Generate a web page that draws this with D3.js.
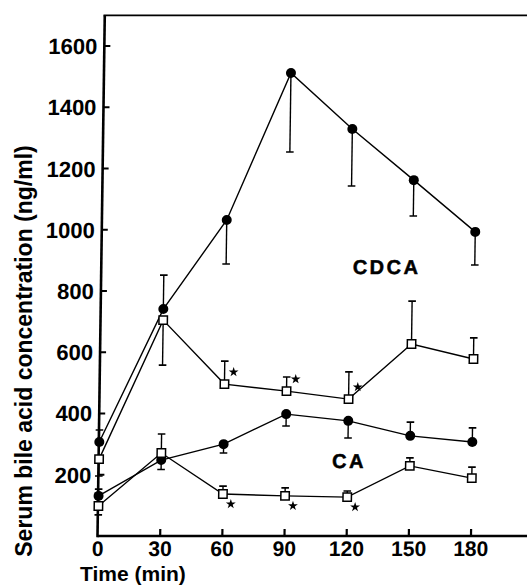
<!DOCTYPE html>
<html><head><meta charset="utf-8">
<script src="https://cdn.jsdelivr.net/npm/d3@7"></script>
<style>html,body{margin:0;padding:0;background:#fff;}svg{display:block;}</style>
</head><body>
<script>
// ---- data ----
const times = [0, 30, 60, 90, 120, 150, 180];
const yTicks = [200, 400, 600, 800, 1000, 1200, 1400, 1600];
const xTicks = [0, 30, 60, 90, 120, 150, 180];

const cdcaFilled    = [307, 741, 1032, 1512, 1329, 1162, 993];
const cdcaFilledErr = [346, 852, 888, 1254, 1143, 1045, 885];
const cdcaOpen      = [251, 705, 496, 473, 447, 627, 578];
const cdcaOpenErr   = [196, 558, 571, 519, 536, 767, 647];
const cdcaOpenStars = [false, false, true, true, true, false, false];

const caFilled      = [131, 248, 300, 398, 376, 327, 307];
const caFilledErr   = [153, 217, 271, 359, 320, 372, 353];
const caOpen        = [98, 271, 137, 131, 127, 229, 189];
const caOpenErr     = [69, 333, 163, 157, 147, 255, 225];
const caOpenStars   = [false, false, true, true, true, false, false];

const groupLabels = ["CDCA", "CA"];
const xLabel = "Time (min)";
const yLabel = "Serum bile acid concentration (ng/ml)";

// ---- layout ----
const W = 527, H = 585;
const svg = d3.select("body").append("svg").attr("width", W).attr("height", H);
const font = "'Liberation Sans', Arial, Helvetica, sans-serif";

const x = d3.scaleLinear().domain([0, 180]).range([98, 471]);
const y = d3.scaleLinear().domain([0, 1700]).range([536, 15.4]);

// slight skew like the scanned original
const g = svg.append("g")
  .attr("transform", `translate(0,${y(0)}) skewX(-0.8) translate(0,${-y(0)})`);

// axes
const x0 = x(0) - 0.5;
g.append("line").attr("x1", x0).attr("x2", W + 20).attr("y1", y(0)).attr("y2", y(0))
  .attr("stroke", "#000").attr("stroke-width", 2.6);
g.append("line").attr("x1", x0).attr("x2", x0).attr("y1", y(0) + 1.3).attr("y2", y(1700))
  .attr("stroke", "#000").attr("stroke-width", 2.6);
g.append("line").attr("x1", x0 - 1.3).attr("x2", W + 20).attr("y1", y(1700)).attr("y2", y(1700))
  .attr("stroke", "#000").attr("stroke-width", 1.8);

// y ticks
g.selectAll(".yt").data(yTicks).join("line")
  .attr("x1", x0).attr("x2", x0 + 6).attr("y1", d => y(d)).attr("y2", d => y(d))
  .attr("stroke", "#000").attr("stroke-width", 2.2);
g.selectAll(".ytl").data(yTicks).join("text")
  .attr("x", x0 - 7).attr("y", d => y(d) + 8)
  .attr("text-anchor", "end").attr("font-family", font).attr("font-weight", "bold")
  .attr("font-size", 22).text(d => d);

// x ticks
g.selectAll(".xt").data(xTicks.filter(d => d > 0)).join("line")
  .attr("x1", d => x(d)).attr("x2", d => x(d)).attr("y1", y(0)).attr("y2", y(0) - 7)
  .attr("stroke", "#000").attr("stroke-width", 2.2);
g.selectAll(".xtl").data(xTicks).join("text")
  .attr("x", d => x(d)).attr("y", 556)
  .attr("text-anchor", "middle").attr("font-family", font).attr("font-weight", "bold")
  .attr("font-size", 21).text(d => d);

// series
const series = [
  {v: cdcaFilled, e: cdcaFilledErr, type: "circle"},
  {v: cdcaOpen, e: cdcaOpenErr, type: "square", stars: cdcaOpenStars, so: [9, -12]},
  {v: caFilled, e: caFilledErr, type: "circle"},
  {v: caOpen, e: caOpenErr, type: "square", stars: caOpenStars, so: [8, 10]},
];

const line = d3.line().x((d, i) => x(times[i])).y(d => y(d));

// error bars
series.forEach(s => {
  const eb = g.append("g");
  s.v.forEach((v, i) => {
    const cx = x(times[i]);
    eb.append("line").attr("x1", cx).attr("x2", cx).attr("y1", y(v)).attr("y2", y(s.e[i]))
      .attr("stroke", "#000").attr("stroke-width", 1.4);
    eb.append("line").attr("x1", cx - 3.8).attr("x2", cx + 3.8).attr("y1", y(s.e[i])).attr("y2", y(s.e[i]))
      .attr("stroke", "#000").attr("stroke-width", 1.6);
  });
});

// lines
series.forEach(s => {
  g.append("path").attr("d", line(s.v)).attr("fill", "none")
    .attr("stroke", "#000").attr("stroke-width", 1.4);
});

// markers
series.forEach(s => {
  if (s.type === "circle") {
    g.selectAll(null).data(s.v).join("circle")
      .attr("cx", (d, i) => x(times[i])).attr("cy", d => y(d)).attr("r", 5)
      .attr("fill", "#000");
  } else {
    g.selectAll(null).data(s.v).join("rect")
      .attr("x", (d, i) => x(times[i]) - 4.2).attr("y", d => y(d) - 4.2)
      .attr("width", 8.4).attr("height", 8.4)
      .attr("fill", "#fff").attr("stroke", "#000").attr("stroke-width", 1.5);
    const star = d3.symbol().type(d3.symbolStar).size(30);
    s.v.forEach((v, i) => {
      if (!s.stars[i]) return;
      g.append("path").attr("d", star())
        .attr("transform", `translate(${x(times[i]) + s.so[0]},${y(v) + s.so[1]})`)
        .attr("fill", "#000");
    });
  }
});

// group labels
g.append("text").attr("x", 349).attr("y", 274).attr("font-family", font)
  .attr("font-weight", "bold").attr("font-size", 20).attr("letter-spacing", 2.5)
  .attr("stroke", "#000").attr("stroke-width", 0.5)
  .text(groupLabels[0]);
g.append("text").attr("x", 331).attr("y", 468).attr("font-family", font)
  .attr("font-weight", "bold").attr("font-size", 20).attr("letter-spacing", 2.5)
  .attr("stroke", "#000").attr("stroke-width", 0.5)
  .text(groupLabels[1]);

// axis titles
svg.append("text").attr("x", 80).attr("y", 581).attr("font-family", font)
  .attr("font-weight", "bold").attr("font-size", 21).text(xLabel);
svg.append("text").attr("transform", "translate(32,351) rotate(-90)")
  .attr("text-anchor", "middle").attr("font-family", font)
  .attr("font-weight", "bold").attr("font-size", 23).text(yLabel);
</script>
</body></html>
